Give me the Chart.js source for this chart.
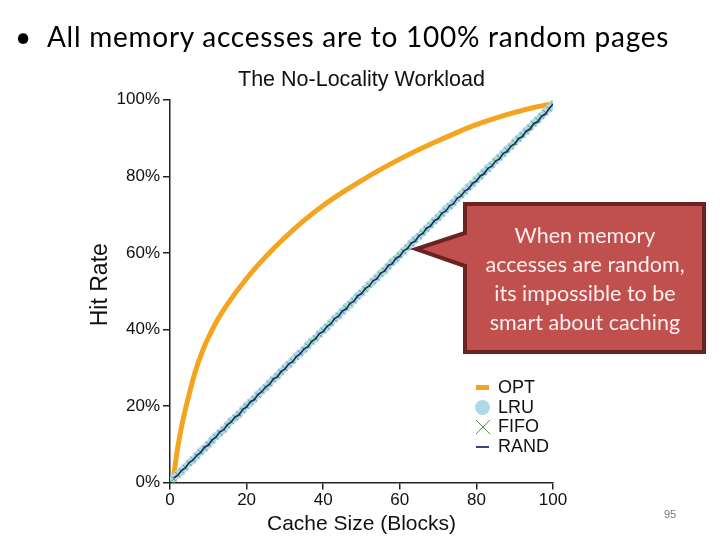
<!DOCTYPE html>
<html>
<head>
<meta charset="utf-8">
<script src="https://cdn.jsdelivr.net/npm/chart.js@4"></script>
<style>
	html, body { margin: 0; padding: 0; background: #fff; }
	#page { position: relative; width: 720px; height: 540px; overflow: hidden; }
	#graphique { position: absolute; left: 0; top: 0; }
	.titre { position: absolute; left: 15px; top: 19px; font-family: Lato, "Noto Sans", sans-serif; font-size: 28px; letter-spacing: 0.75px; color: #000; white-space: nowrap; }
	.bulle-texte { position: absolute; left: 467px; top: 221px; width: 236px; text-align: center; font-family: Lato, "Noto Sans", sans-serif; font-size: 21.5px; line-height: 29px; color: #fbeeee; }
	.legende { position: absolute; left: 474px; top: 378px; font-family: "Liberation Sans", Arial, sans-serif; font-size: 18px; color: #111; }
	.legende div { height: 19.5px; line-height: 19.5px; position: relative; padding-left: 24px; }
	.legende .icone { position: absolute; left: 0; }
	.num { position: absolute; left: 664px; top: 508px; font-family: "Liberation Sans", sans-serif; font-size: 11px; color: #777; }
</style>
</head>
<body>
<div id="page">
	<canvas id="graphique" width="720" height="540"></canvas>
	<svg width="720" height="540" style="position:absolute;left:0;top:0">
		<path d="M465,204 L704,204 L704,352 L465,352 L465,266 L416,249 L465,233 Z" fill="#c0504d" stroke="#6a2321" stroke-width="4" stroke-linejoin="miter"/>
	</svg>
	<div class="titre">•&nbsp; All memory accesses are to 100% random pages</div>
	<div class="bulle-texte">When memory<br>accesses are random,<br>its impossible to be<br>smart about caching</div>
	<div class="legende">
		<div><span class="icone" style="left:2px;top:7px;width:13px;height:5px;background:#f4a41f"></span>OPT</div>
		<div><span class="icone" style="left:1px;top:2px;width:15px;height:15px;border-radius:50%;background:#add8e6"></span>LRU</div>
		<div><svg class="icone" style="left:1px;top:2px" width="16" height="16"><path d="M1,1 L15,15 M15,1 L1,15" stroke="#4c9a4c" stroke-width="1"/></svg>FIFO</div>
		<div><span class="icone" style="left:2px;top:9px;width:13px;height:2px;background:#3a3f8a"></span>RAND</div>
	</div>
	<div class="num">95</div>
</div>
<script>
// tailles de cache (blocs)
const tailles = [1,2,3,4,5,6,7,8,9,10,11,12,13,14,15,16,17,18,19,20,21,22,23,24,25,26,27,28,29,30,31,32,33,34,35,36,37,38,39,40,41,42,43,44,45,46,47,48,49,50,51,52,53,54,55,56,57,58,59,60,61,62,63,64,65,66,67,68,69,70,71,72,73,74,75,76,77,78,79,80,81,82,83,84,85,86,87,88,89,90,91,92,93,94,95,96,97,98,99,100];

// OPT
const taillesOpt = [1,2,3,4,5,6,7,8,9,10,12,15,20,25,30,35,40,45,50,55,60,65,70,75,80,85,90,95,100];
const opt = [2,9,14.5,19,23,26.9,30.2,33.1,35.6,37.8,41.8,46.6,53.3,59,64,68.5,72.4,75.8,78.9,81.8,84.5,87,89.3,91.5,93.5,95.2,96.7,98,99];

const lru = [1.0,2.1,2.9,4.0,5.1,5.9,7.0,8.1,8.9,9.9,
	11.0,12.1,12.9,13.8,15.0,16.1,16.9,17.8,19.0,20.1,
	20.9,21.8,23.0,24.0,24.8,25.9,27.0,27.8,28.9,30.0,
	30.8,31.9,33.0,33.8,34.7,35.9,36.9,37.6,38.8,39.8,
	40.6,41.7,42.8,43.6,44.7,45.8,46.5,47.6,48.7,49.6,
	50.6,51.7,52.5,53.6,54.6,55.4,56.5,57.6,58.4,59.5,
	60.5,61.4,62.5,63.5,64.3,65.4,66.4,67.3,68.4,69.3,
	70.3,71.4,72.2,73.2,74.3,75.2,76.2,77.2,78.1,79.2,
	80.1,81.1,82.1,83.0,84.1,85.0,86.0,87.0,87.9,89.0,
	89.9,90.9,91.9,92.8,93.9,94.8,95.8,96.8,97.8,98.9];

const fifo = [0.9,2.0,3.0,3.9,5.0,6.0,6.9,7.9,9.0,10.0,
	10.9,11.9,13.0,13.9,14.8,15.9,17.0,17.9,18.8,19.9,
	21.0,21.9,22.8,23.8,24.9,25.8,26.8,27.9,28.8,29.8,
	30.9,31.8,32.7,33.8,34.8,35.7,36.7,37.8,38.7,39.7,
	40.7,41.6,42.6,43.7,44.6,45.6,46.7,47.5,48.5,49.6,
	50.5,51.5,52.6,53.4,54.4,55.5,56.4,57.4,58.5,59.3,
	60.3,61.4,62.3,63.3,64.4,65.2,66.2,67.3,68.2,69.2,
	70.2,71.1,72.2,73.1,74.1,75.1,76.0,77.1,78.0,79.0,
	80.0,81.0,81.9,82.9,83.9,84.9,85.8,86.9,87.8,88.8,
	89.8,90.8,91.7,92.8,93.7,94.7,95.7,96.7,97.6,98.7];

const rand = [1.2,1.8,3.1,3.8,5.2,5.8,7.1,7.8,9.2,9.7,
	11.1,11.8,13.2,13.7,15.1,15.8,17.1,17.6,19.1,19.7,
	21.1,21.6,23.0,23.7,25.0,25.6,27.1,27.5,29.0,29.6,
	31.0,31.5,32.9,33.6,34.9,35.4,36.9,37.5,38.9,39.4,
	40.8,41.4,42.9,43.4,44.8,45.3,46.8,47.3,48.8,49.3,
	50.7,51.3,52.7,53.2,54.7,55.2,56.7,57.1,58.6,59.1,
	60.6,61.1,62.6,63.0,64.5,65.0,66.5,66.9,68.4,68.9,
	70.4,70.9,72.3,72.8,74.3,74.8,76.2,76.7,78.2,78.7,
	80.1,80.6,82.1,82.6,84.0,84.5,86.0,86.4,87.9,88.4,
	89.9,90.3,91.8,92.3,93.8,94.2,95.7,96.2,97.7,98.9];

const ticksX = [0,20,40,60,80,100];
const ticksY = [0,20,40,60,80,100];

function points(xs, ys){
	return xs.map((x, i) => ({x: x, y: ys[i]}));
}

const police = "'Liberation Sans', Arial, sans-serif";

new Chart(document.querySelector("#graphique"), {
	type: "line",
	data: {
		datasets: [
			{label: "OPT", data: points(taillesOpt, opt), borderColor: "#f4a41f", borderWidth: 5, pointRadius: 0, cubicInterpolationMode: "monotone", order: 4},
			{label: "LRU", data: points(tailles, lru), showLine: false, pointRadius: 4.2, pointBackgroundColor: "#add8e6", pointBorderWidth: 0, borderColor: "#add8e6", order: 3},
			{label: "FIFO", data: points(tailles, fifo), showLine: false, pointStyle: "crossRot", pointRadius: 3.5, pointBorderColor: "#5aa05a", pointBorderWidth: 1, borderColor: "#5aa05a", order: 2},
			{label: "RAND", data: points(tailles, rand), borderColor: "#1d2b63", borderWidth: 1.6, pointRadius: 0, tension: 0, order: 1}
		]
	},
	options: {
		responsive: false,
		animation: false,
		layout: {padding: {left: 85, right: 167, top: 67, bottom: 0}},
		plugins: {
			legend: {display: false},
			tooltip: {enabled: false},
			title: {display: true, text: "The No-Locality Workload", fullSize: false, color: "#111", font: {family: police, size: 21.5, weight: "normal"}, padding: {top: 0, bottom: 7}}
		},
		scales: {
			x: {
				type: "linear", min: 0, max: 100,
				afterBuildTicks: s => { s.ticks = ticksX.map(v => ({value: v})); },
				ticks: {color: "#111", font: {family: police, size: 17}, padding: 1, maxRotation: 0},
				grid: {drawOnChartArea: false, drawTicks: true, tickLength: 7, color: "#222", lineWidth: 1.5},
				border: {display: true, color: "#222", width: 1.5},
				title: {display: true, text: "Cache Size (Blocks)", color: "#111", font: {family: police, size: 21}, padding: {top: 0, bottom: 3}}
			},
			y: {
				min: 0, max: 100,
				afterBuildTicks: s => { s.ticks = ticksY.map(v => ({value: v})); },
				afterFit: s => { s.width = 85; },
				ticks: {color: "#111", font: {family: police, size: 17}, padding: 3, callback: v => v + "%"},
				grid: {drawOnChartArea: false, drawTicks: true, tickLength: 7, color: "#222", lineWidth: 1.5},
				border: {display: true, color: "#222", width: 1.5},
				title: {display: true, text: "  Hit Rate", color: "#111", font: {family: police, size: 23}, padding: {top: 2, bottom: 0}}
			}
		}
	}
});
</script>
</body>
</html>
